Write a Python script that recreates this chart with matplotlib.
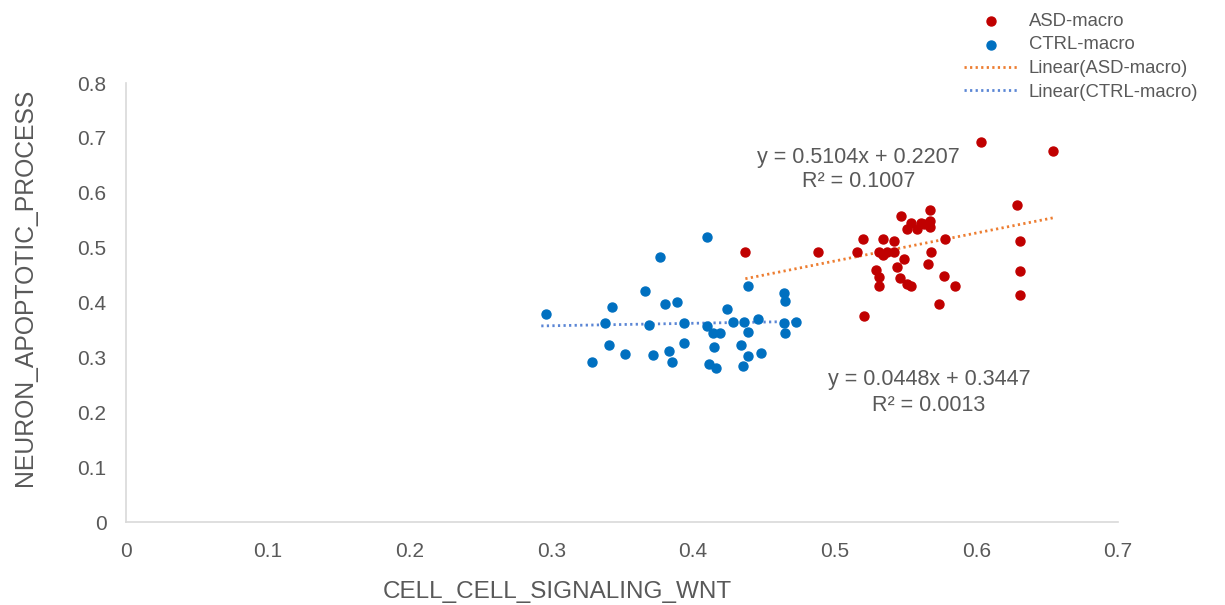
import numpy as np
import matplotlib.pyplot as plt

plt.rcParams['font.family'] = ['Liberation Sans', 'DejaVu Sans']

# values
ctrl_x = [0.296, 0.329, 0.338, 0.343, 0.341, 0.352, 0.366, 0.369, 0.372, 0.377,
          0.380, 0.383, 0.385, 0.389, 0.394, 0.394, 0.410, 0.410, 0.414, 0.419,
          0.415, 0.411, 0.416, 0.424, 0.428, 0.436, 0.439, 0.439, 0.434, 0.435,
          0.439, 0.446, 0.448, 0.464, 0.465, 0.464, 0.465, 0.473]
ctrl_y = [0.380, 0.292, 0.363, 0.392, 0.323, 0.307, 0.422, 0.360, 0.304, 0.483,
          0.398, 0.313, 0.292, 0.402, 0.363, 0.327, 0.519, 0.358, 0.345, 0.345,
          0.319, 0.289, 0.282, 0.388, 0.365, 0.365, 0.430, 0.347, 0.323, 0.284,
          0.303, 0.370, 0.309, 0.417, 0.404, 0.363, 0.345, 0.365]

asd_x = [0.603, 0.654, 0.629, 0.631, 0.631, 0.631, 0.437, 0.488, 0.516, 0.520,
         0.521, 0.529, 0.531, 0.531, 0.531, 0.534, 0.534, 0.537, 0.542, 0.542,
         0.544, 0.546, 0.547, 0.549, 0.551, 0.551, 0.554, 0.554, 0.558, 0.561,
         0.563, 0.567, 0.567, 0.567, 0.566, 0.568, 0.574, 0.577, 0.578, 0.585]
asd_y = [0.693, 0.676, 0.578, 0.513, 0.457, 0.415, 0.493, 0.493, 0.493, 0.516,
         0.375, 0.460, 0.447, 0.430, 0.493, 0.516, 0.486, 0.493, 0.513, 0.493,
         0.465, 0.445, 0.558, 0.480, 0.535, 0.434, 0.431, 0.546, 0.534, 0.546,
         0.543, 0.569, 0.549, 0.537, 0.471, 0.493, 0.398, 0.448, 0.516, 0.430]

# trendline coefficients as printed on the chart
asd_fit = (0.5104, 0.2207, 0.1007)
ctrl_fit = (0.0448, 0.3447, 0.0013)

fig = plt.figure(figsize=(12.25, 6.05), dpi=100)
ax = fig.add_axes([0.1029, 0.1364, 0.8098, 0.7264])

red = '#C00000'
blue = '#0070C0'
grey = '#595959'

ax.scatter(asd_x, asd_y, s=42, color=red, zorder=3, label='ASD-macro')
ax.scatter(ctrl_x, ctrl_y, s=42, color=blue, zorder=3, label='CTRL-macro')

xs = np.array([min(asd_x), max(asd_x)])
ax.plot(xs, asd_fit[0] * xs + asd_fit[1], color='#ED7D31', lw=2,
        linestyle=(0, (0.8, 1.2)), zorder=2, label='Linear(ASD-macro)')
xs = np.array([min(ctrl_x) - 0.003, max(ctrl_x)])
ax.plot(xs, ctrl_fit[0] * xs + ctrl_fit[1], color='#5B86D5', lw=2,
        linestyle=(0, (0.8, 1.2)), zorder=2, label='Linear(CTRL-macro)')

ax.text(0.517, 0.665, 'y = %.4fx + %.4f' % asd_fit[:2], ha='center',
        va='center', fontsize=15.5, color=grey)
ax.text(0.517, 0.621, 'R² = %.4f' % asd_fit[2], ha='center',
        va='center', fontsize=15.5, color=grey)
ax.text(0.5665, 0.260, 'y = %.4fx + %.4f' % ctrl_fit[:2], ha='center',
        va='center', fontsize=15.5, color=grey)
ax.text(0.5665, 0.213, 'R² = %.4f' % ctrl_fit[2], ha='center',
        va='center', fontsize=15.5, color=grey)

ax.set_xlim(0, 0.7)
ax.set_ylim(0, 0.8)
ax.set_xticks(np.arange(0, 0.71, 0.1))
ax.set_yticks(np.arange(0, 0.81, 0.1))
ax.set_xticklabels(['0', '0.1', '0.2', '0.3', '0.4', '0.5', '0.6', '0.7'])
ax.set_yticklabels(['0', '0.1', '0.2', '0.3', '0.4', '0.5', '0.6', '0.7', '0.8'])
ax.tick_params(length=0, labelsize=15, labelcolor=grey, pad=14)
for side in ['top', 'right']:
    ax.spines[side].set_visible(False)
for side in ['left', 'bottom']:
    ax.spines[side].set_color('#D9D9D9')
    ax.spines[side].set_linewidth(1.2)

ax.set_xlabel('CELL_CELL_SIGNALING_WNT', fontsize=17.5, color=grey)
ax.set_ylabel('NEURON_APOPTOTIC_PROCESS', fontsize=17.8, color=grey)
ax.xaxis.set_label_coords(0.435, -0.133)
ax.yaxis.set_label_coords(-0.09, 0.535)

ax.legend(loc='upper left', bbox_to_anchor=(0.787, 0.979),
          bbox_transform=fig.transFigure, frameon=False, borderpad=0,
          fontsize=13.3, labelcolor=grey, handlelength=2.9, handletextpad=0.6,
          labelspacing=0.36, borderaxespad=0)

fig.savefig('out.png', dpi=100)
